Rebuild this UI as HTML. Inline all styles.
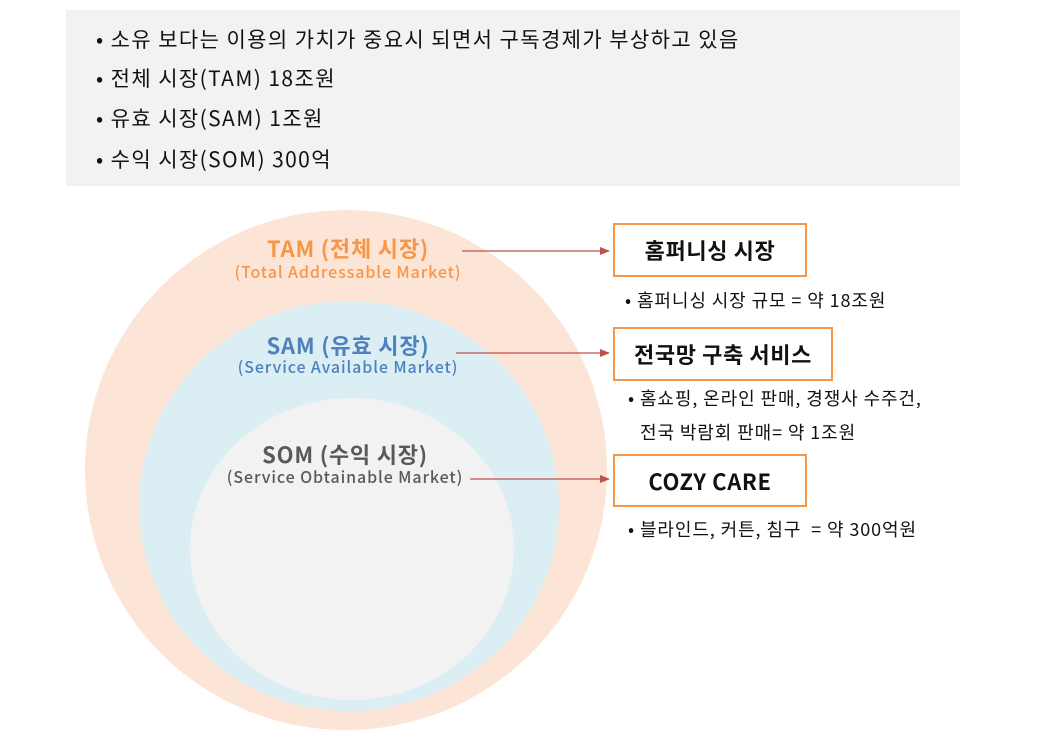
<!DOCTYPE html>
<html><head><meta charset="utf-8"><style>
body{margin:0;width:1043px;height:736px;background:#fff;position:relative;overflow:hidden;font-family:"Noto Sans CJK KR","Liberation Sans",sans-serif}
.top{position:absolute;left:66px;top:10px;width:894px;height:176px;background:#f2f2f2}
.top div{position:absolute;left:30px;font-size:21px;letter-spacing:1.4px;line-height:26px;color:#111;white-space:nowrap}
.t{position:absolute;text-align:center;white-space:nowrap;line-height:1.2}
.box{position:absolute;border:2px solid #f79646;box-sizing:border-box;font-weight:bold;font-size:22px;letter-spacing:0.6px;color:#111;display:flex;align-items:center;justify-content:center;background:#fff}
.n{position:absolute;font-size:18px;letter-spacing:0.9px;line-height:22px;color:#111;white-space:nowrap}
</style></head><body>
<div class="top">
<div style="top:16px">• 소유 보다는 이용의 가치가 중요시 되면서 구독경제가 부상하고 있음</div>
<div style="top:55px">• 전체 시장(TAM) 18조원</div>
<div style="top:95px">• 유효 시장(SAM) 1조원</div>
<div style="top:136px">• 수익 시장(SOM) 300억</div>
</div>
<svg style="position:absolute;left:0;top:0" width="1043" height="736">
<ellipse cx="346" cy="470" rx="261" ry="260" fill="#fce4d6"/>
<ellipse cx="349" cy="506" rx="210" ry="205" fill="#daeef3"/>
<ellipse cx="352" cy="549" rx="162" ry="151" fill="#f2f2f2"/>
<defs><marker id="a" markerWidth="10" markerHeight="8" refX="9" refY="4" orient="auto" markerUnits="userSpaceOnUse"><path d="M0,0L10,4L0,8z" fill="#c0504d"/></marker></defs>
<line x1="462" y1="251" x2="609" y2="251" stroke="#c0504d" stroke-width="1.3" marker-end="url(#a)"/>
<line x1="456" y1="353" x2="609" y2="353" stroke="#c0504d" stroke-width="1.3" marker-end="url(#a)"/>
<line x1="470" y1="479" x2="609" y2="479" stroke="#c0504d" stroke-width="1.3" marker-end="url(#a)"/>
</svg>
<div class="t" style="left:198px;width:300px;top:235px;font-size:22px;letter-spacing:0.8px;font-weight:bold;color:#f79646">TAM (전체 시장)</div>
<div class="t" style="left:198px;width:300px;top:262px;font-size:16px;font-weight:500;letter-spacing:0.9px;color:#f79646">(Total Addressable Market)</div>
<div class="t" style="left:198px;width:300px;top:332px;font-size:22px;letter-spacing:0.8px;font-weight:bold;color:#4f81bd">SAM (유효 시장)</div>
<div class="t" style="left:198px;width:300px;top:357px;font-size:16px;font-weight:500;letter-spacing:0.9px;color:#4f81bd">(Service Available Market)</div>
<div class="t" style="left:195px;width:300px;top:441px;font-size:22px;letter-spacing:0.8px;font-weight:bold;color:#595959">SOM (수익 시장)</div>
<div class="t" style="left:195px;width:300px;top:467px;font-size:16px;font-weight:500;letter-spacing:0.9px;color:#595959">(Service Obtainable Market)</div>
<div class="box" style="left:613px;top:223px;width:194px;height:54px">홈퍼니싱 시장</div>
<div class="box" style="left:613px;top:327px;width:220px;height:54px">전국망 구축 서비스</div>
<div class="box" style="left:613px;top:454px;width:194px;height:53px">COZY CARE</div>
<div class="n" style="left:625px;top:289px">• 홈퍼니싱 시장 규모 = 약 18조원</div>
<div class="n" style="left:628px;top:387px">• 홈쇼핑, 온라인 판매, 경쟁사 수주건,</div>
<div class="n" style="left:640px;top:421px">전국 박람회 판매= 약 1조원</div>
<div class="n" style="left:628px;top:518px">• 블라인드, 커튼, 침구 &nbsp;= 약 300억원</div>
</body></html>
